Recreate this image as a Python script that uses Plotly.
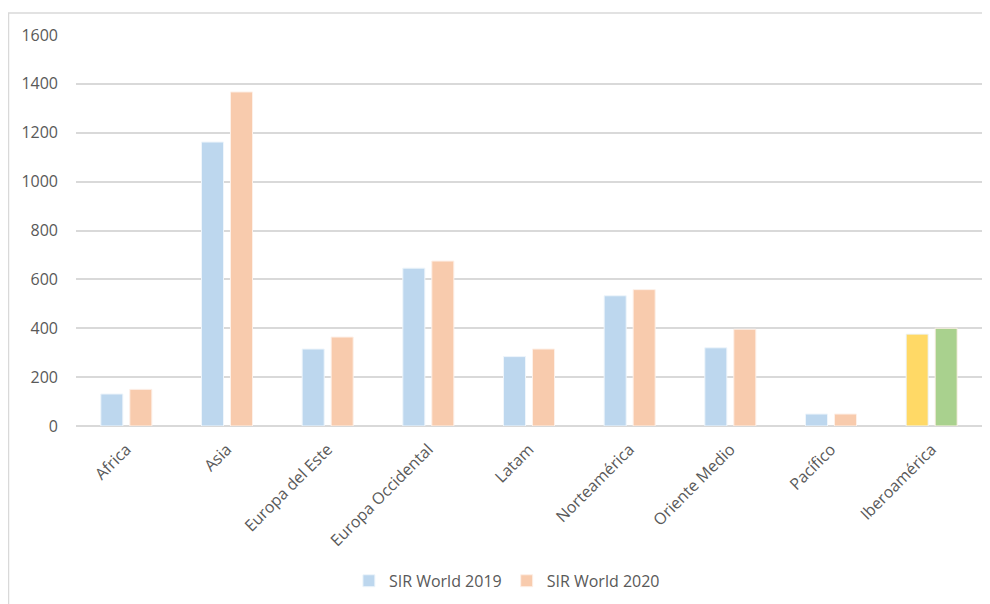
import plotly.graph_objects as go

categories = ["Africa", "Asia", "Europa del Este", "Europa Occidental", "Latam",
              "Norteamérica", "Oriente Medio", "Pacífico", "Iberoamérica"]
sir_2019 = [131, 1162, 315, 646, 284, 533, 320, 49, 376]
sir_2020 = [150, 1367, 364, 675, 315, 558, 396, 49, 400]
y_ticks = [0, 200, 400, 600, 800, 1000, 1200, 1400, 1600]

blue = "#BDD7EE"
orange = "#F8CBAD"
yellow = "#FFD966"
green = "#A9D18E"

colors_2019 = [blue] * (len(categories) - 1) + [yellow]
colors_2020 = [orange] * (len(categories) - 1) + [green]

font_family = "Open Sans, Liberation Sans, sans-serif"
text_col = "#595959"
grid_col = "#D9D9D9"

fig = go.Figure()
fig.add_trace(go.Bar(x=categories, y=sir_2019, name="SIR World 2019",
                     marker=dict(color=colors_2019, line=dict(color="#EEF5FB", width=1))))
fig.add_trace(go.Bar(x=categories, y=sir_2020, name="SIR World 2020",
                     marker=dict(color=colors_2020, line=dict(color="#FDF0E8", width=1))))

fig.update_layout(
    width=990, height=604,
    margin=dict(l=68, r=16, t=27, b=186),
    paper_bgcolor="white", plot_bgcolor="white",
    barmode="group", bargap=0.424, bargroupgap=0.24,
    font=dict(family=font_family, size=16, color=text_col),
    legend=dict(orientation="h", x=0.4756, xanchor="center", y=-0.396, yanchor="middle",
                font=dict(size=16, color=text_col), traceorder="normal"),
    xaxis=dict(tickangle=-45, showgrid=False, showline=False, ticks="",
               tickfont=dict(size=16, color=text_col), ticklabelstandoff=10),
    yaxis=dict(range=[0, 1600], tickvals=y_ticks, showgrid=True, gridcolor=grid_col,
               gridwidth=1.5, zeroline=True, zerolinecolor=grid_col, zerolinewidth=1.5,
               ticks="", showline=False, tickfont=dict(size=16, color=text_col),
               ticklabelstandoff=17),
    shapes=[
        dict(type="line", xref="paper", yref="paper", x0=-0.0751, x1=1.05, y0=1.0563, y1=1.0563,
             line=dict(color=grid_col, width=1.5)),
        dict(type="line", xref="paper", yref="paper", x0=-0.0745, x1=-0.0745, y0=1.0563, y1=-0.5,
             line=dict(color=grid_col, width=1.5)),
    ],
)

fig.write_html("out.html")
